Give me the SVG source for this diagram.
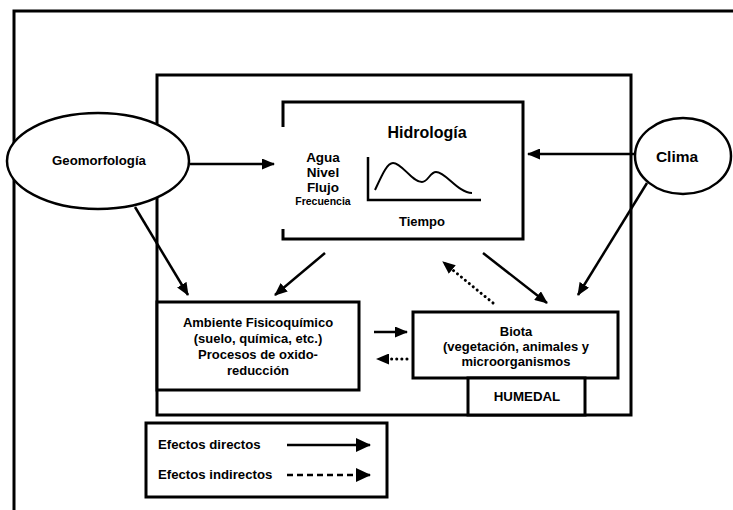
<svg xmlns="http://www.w3.org/2000/svg" width="733" height="510" viewBox="0 0 733 510">
<defs>
<marker id="ah" markerUnits="userSpaceOnUse" markerWidth="13" markerHeight="11" refX="12" refY="5.5" orient="auto"><path d="M0,0 L13,5.5 L0,11 z" fill="#000"/></marker>
<marker id="ahL" markerUnits="userSpaceOnUse" markerWidth="15" markerHeight="14" refX="14" refY="7" orient="auto"><path d="M0,0 L15,7 L0,14 z" fill="#000"/></marker>
</defs>
<style>
.box{fill:#fff;stroke:#000;stroke-width:3}
.ell{fill:#fff;stroke:#000;stroke-width:2.5}
.t{font-family:"Liberation Sans",Arial,sans-serif;font-weight:bold;fill:#000;text-anchor:middle}
.s{text-anchor:start}
.c{stroke:#000;stroke-width:2.5;fill:none}
.dot{stroke-width:3;stroke-linecap:round;stroke-dasharray:0.1 5}
.dash{stroke-dasharray:6 4}
</style>
<rect width="733" height="510" fill="#fff"/>
<path d="M14,510 V11 H733" fill="none" stroke="#000" stroke-width="3"/>
<g id="humedal-frame"><rect class="box" x="157" y="75" width="474" height="340"/></g>
<g id="hidrologia">
<rect class="box" x="283" y="102" width="240" height="137"/>
<rect x="280" y="127" width="6" height="102" fill="#fff"/>
<text class="t" x="427" y="138" font-size="16">Hidrología</text>
<text class="t" x="323" y="162" font-size="13.5">Agua</text>
<text class="t" x="323" y="177" font-size="13.5">Nivel</text>
<text class="t" x="323" y="192" font-size="13.5">Flujo</text>
<text class="t" x="323" y="205" font-size="10.5">Frecuencia</text>
<path d="M368,157 V200 H481" fill="none" stroke="#000" stroke-width="2.5"/>
<path d="M375,190 C382,175 387,163 393,163 C402,163 412,182 422,182 C428,182 430,172 436,172 C446,172 458,193 472,193" fill="none" stroke="#000" stroke-width="2"/>
<text class="t" x="422" y="226" font-size="13">Tiempo</text>
</g>
<g id="ambiente">
<rect class="box" x="157" y="302" width="202" height="88"/>
<text class="t" x="258" y="327" font-size="13">Ambiente Fisicoquímico</text>
<text class="t" x="258" y="343" font-size="13">(suelo, química, etc.)</text>
<text class="t" x="258" y="359" font-size="13">Procesos de oxido-</text>
<text class="t" x="258" y="375" font-size="13">reducción</text>
</g>
<g id="biota">
<rect class="box" x="413" y="312" width="205" height="66"/>
<text class="t" x="516" y="336" font-size="13">Biota</text>
<text class="t" x="516" y="351" font-size="13">(vegetación, animales y</text>
<text class="t" x="516" y="366" font-size="13">microorganismos</text>
</g>
<g id="humedal">
<rect class="box" x="468" y="378" width="117" height="37"/>
<text class="t" x="527" y="401" font-size="13.3">HUMEDAL</text>
</g>
<g id="connectors">
<path class="c" d="M190,164 H274" marker-end="url(#ah)"/>
<path class="c" d="M135,207 L188,295" marker-end="url(#ah)"/>
<path class="c" d="M635,154 H528" marker-end="url(#ah)"/>
<path class="c" d="M647,183 L578,295" marker-end="url(#ah)"/>
<path class="c" d="M325,253 L275,295" marker-end="url(#ah)"/>
<path class="c" d="M483,253 L547,303" marker-end="url(#ah)"/>
<path class="c dot" d="M493,303 L443,262" marker-end="url(#ah)"/>
<path class="c" d="M374,332 H407" marker-end="url(#ah)"/>
<path class="c dot" d="M407,359 H377" marker-end="url(#ah)"/>
</g>
<g id="geomorfologia">
<ellipse class="ell" cx="98" cy="161" rx="91" ry="48"/>
<text class="t" x="99" y="165" font-size="13.2">Geomorfología</text>
</g>
<g id="clima">
<ellipse class="ell" cx="683" cy="156" rx="48" ry="38"/>
<text class="t" x="677" y="162" font-size="15.5">Clima</text>
</g>
<g id="legend">
<rect class="box" x="146" y="423" width="241" height="74"/>
<text class="t s" x="158" y="449" font-size="13.2">Efectos directos</text>
<text class="t s" x="158" y="479" font-size="13.2">Efectos indirectos</text>
<path class="c" d="M287,445 H370" marker-end="url(#ahL)"/>
<path class="c dash" d="M287,475 H370" marker-end="url(#ahL)"/>
</g>
</svg>
